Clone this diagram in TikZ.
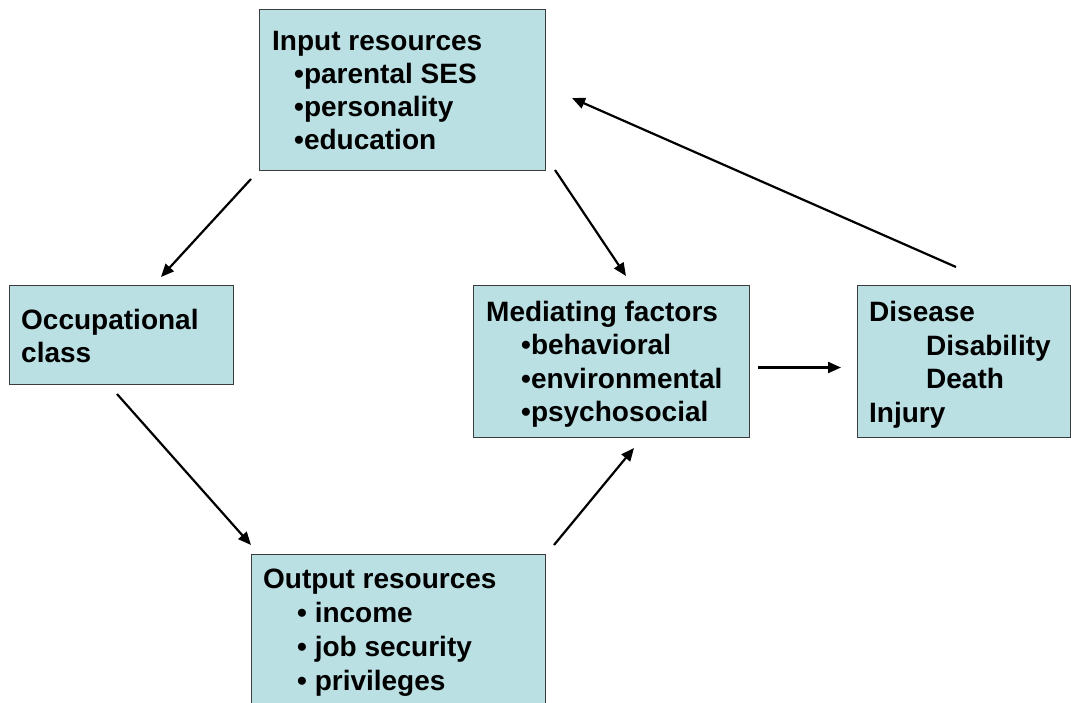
\documentclass[tikz,border=0pt]{standalone}
\usepackage{fontspec}
\setmainfont{Liberation Sans}
\usetikzlibrary{arrows.meta}
\definecolor{boxfill}{RGB}{186,224,228}
\definecolor{boxline}{RGB}{60,60,60}
\tikzset{
  box/.style={draw=boxline, line width=1pt, fill=boxfill, anchor=north west, inner sep=0pt},
  txt/.style={anchor=base west, align=left, inner sep=0pt, font=\bfseries\fontsize{28}{33}\selectfont},
  conn/.style={line width=2.2pt, -{Triangle[length=13pt,width=11pt]}}
}
\begin{document}
\begin{tikzpicture}[x=1pt,y=-1pt]
\clip (0,0) rectangle (1071,702);
\fill[white] (0,0) rectangle (1071,702);
% boxes
\node[box, minimum width=286pt, minimum height=161pt] (in) at (259,9) {};
\node[box, minimum width=224pt, minimum height=99pt] (occ) at (9,285) {};
\node[box, minimum width=276pt, minimum height=152pt] (med) at (473,285) {};
\node[box, minimum width=213pt, minimum height=152pt] (dis) at (857,285) {};
\node[box, minimum width=294pt, minimum height=170pt] (out) at (251,554) {};
% texts (anchored at the baseline of the last line)
\node[txt] (intxt) at (272,149) {Input resources\\\hspace*{22pt}•parental SES\\\hspace*{22pt}•personality\\\hspace*{22pt}•education};
\node[txt] (occtxt) at (21,362) {Occupational\\class};
\node[txt, font=\bfseries\fontsize{28}{33.5}\selectfont] (medtxt) at (486,421.5) {Mediating factors\\\hspace*{35pt}•behavioral\\\hspace*{35pt}•environmental\\\hspace*{35pt}•psychosocial};
\node[txt, font=\bfseries\fontsize{28}{33.5}\selectfont] (distxt) at (869,422) {Disease\\\hspace*{57pt}Disability\\\hspace*{57pt}Death\\Injury};
\node[txt, font=\bfseries\fontsize{28}{34}\selectfont] (outtxt) at (263,690) {Output resources\\\hspace*{34pt}• income\\\hspace*{34pt}• job security\\\hspace*{34pt}• privileges};
% connectors
\draw[conn] ([shift={(-8,8)}]in.south west) -- ([shift={(152,-8)}]occ.north west);
\draw[conn] ([shift={(9,-1)}]in.south east) -- ([shift={(153,-9)}]med.north west);
\draw[conn] ([shift={(108,9)}]occ.south west) -- ([shift={(0,-9)}]out.north west);
\draw[conn] ([shift={(8,-9)}]out.north east) -- ([shift={(161,10)}]med.south west);
\draw[conn] ([shift={(8,6)}]med.east) -- ([shift={(-16,6)}]dis.west);
\draw[conn] ([shift={(99,-18)}]dis.north west) -- ([shift={(26,89)}]in.north east);
\end{tikzpicture}
\end{document}
